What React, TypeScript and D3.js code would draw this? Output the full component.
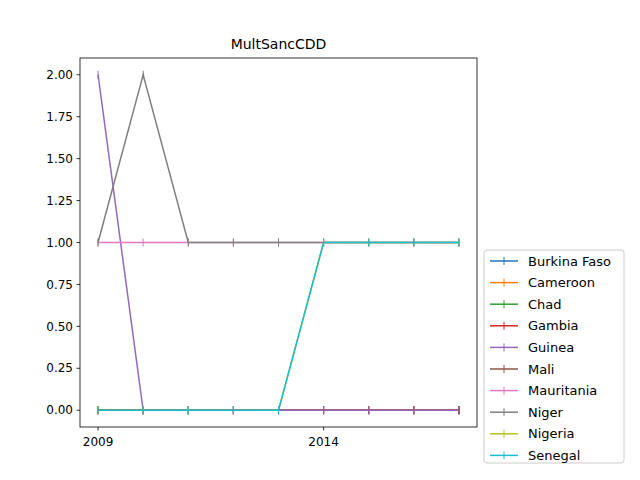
import React from "react";
import * as d3 from "d3";

const years = [2009, 2010, 2011, 2012, 2013, 2014, 2015, 2016, 2017];
const names = ["Burkina Faso", "Cameroon", "Chad", "Gambia", "Guinea", "Mali", "Mauritania", "Niger", "Nigeria", "Senegal"];
const colors = ["#1f77b4", "#ff7f0e", "#2ca02c", "#d62728", "#9467bd", "#8c564b", "#e377c2", "#7f7f7f", "#bcbd22", "#17becf"];
const burkina = [0, 0, 0, 0, 0, 0, 0, 0, 0];
const cameroon = [0, 0, 0, 0, 0, 0, 0, 0, 0];
const chad = [0, 0, 0, 0, 0, 0, 0, 0, 0];
const gambia = [0, 0, 0, 0, 0, 0, 0, 0, 0];
const guinea = [2, 0, 0, 0, 0, 0, 0, 0, 0];
const mali: (number | null)[] = [null, null, null, null, null, null, null, null, 0];
const mauritania = [1, 1, 1, 1, 1, 1, 1, 1, 1];
const niger = [1, 2, 1, 1, 1, 1, 1, 1, 1];
const nigeria = [0, 0, 0, 0, 0, 1, 1, 1, 1];
const senegal = [0, 0, 0, 0, 0, 1, 1, 1, 1];
const series: (number | null)[][] = [burkina, cameroon, chad, gambia, guinea, mali, mauritania, niger, nigeria, senegal];
const yTicks = [0, 0.25, 0.5, 0.75, 1, 1.25, 1.5, 1.75, 2];
const xTicks = [2009, 2014];

export default function App() {
  const L = 80, R = 477, T = 58, B = 427;
  const x = d3.scaleLinear().domain([2008.6, 2017.4]).range([L, R]);
  const y = d3.scaleLinear().domain([-0.1, 2.1]).range([B, T]);
  const line = d3.line<number | null>().defined((v) => v !== null).x((_, i) => x(years[i])).y((v) => y(v as number));
  const font = "DejaVu Sans";
  return (
    <svg width={640} height={480} style={{ position: "absolute", left: 0, top: 0, fontFamily: font }}>
      <rect width={640} height={480} fill="#fff" />
      <text x={(L + R) / 2} y={49} textAnchor="middle" fontSize={14}>MultSancCDD</text>
      {series.map((s, k) => (
        <g key={k} stroke={colors[k]} strokeWidth={1.5} fill="none">
          <path d={line(s) || ""} />
          {s.map((v, i) => v === null ? null : (
            <line key={i} x1={x(years[i])} x2={x(years[i])} y1={y(v) - 4} y2={y(v) + 4} strokeWidth={1} />
          ))}
        </g>
      ))}
      <rect x={L} y={T} width={R - L} height={B - T} fill="none" stroke="#000" strokeWidth={0.8} />
      {yTicks.map((t) => (
        <g key={t}>
          <line x1={L - 3.5} x2={L} y1={y(t)} y2={y(t)} stroke="#000" strokeWidth={0.8} />
          <text x={L - 7} y={y(t)} dy="0.35em" textAnchor="end" fontSize={12}>{t.toFixed(2)}</text>
        </g>
      ))}
      {xTicks.map((t) => (
        <g key={t}>
          <line x1={x(t)} x2={x(t)} y1={B} y2={B + 3.5} stroke="#000" strokeWidth={0.8} />
          <text x={x(t)} y={B + 19} textAnchor="middle" fontSize={12}>{t}</text>
        </g>
      ))}
      <rect x={484} y={250} width={140} height={213} rx={3} fill="#fff" stroke="#ccc" />
      {names.map((n, k) => {
        const yy = 261 + k * 21.6;
        return (
          <g key={n}>
            <line x1={490} x2={518} y1={yy} y2={yy} stroke={colors[k]} strokeWidth={1.5} />
            <line x1={504} x2={504} y1={yy - 4} y2={yy + 4} stroke={colors[k]} />
            <text x={528} y={yy} dy="0.35em" fontSize={13}>{n}</text>
          </g>
        );
      })}
    </svg>
  );
}
